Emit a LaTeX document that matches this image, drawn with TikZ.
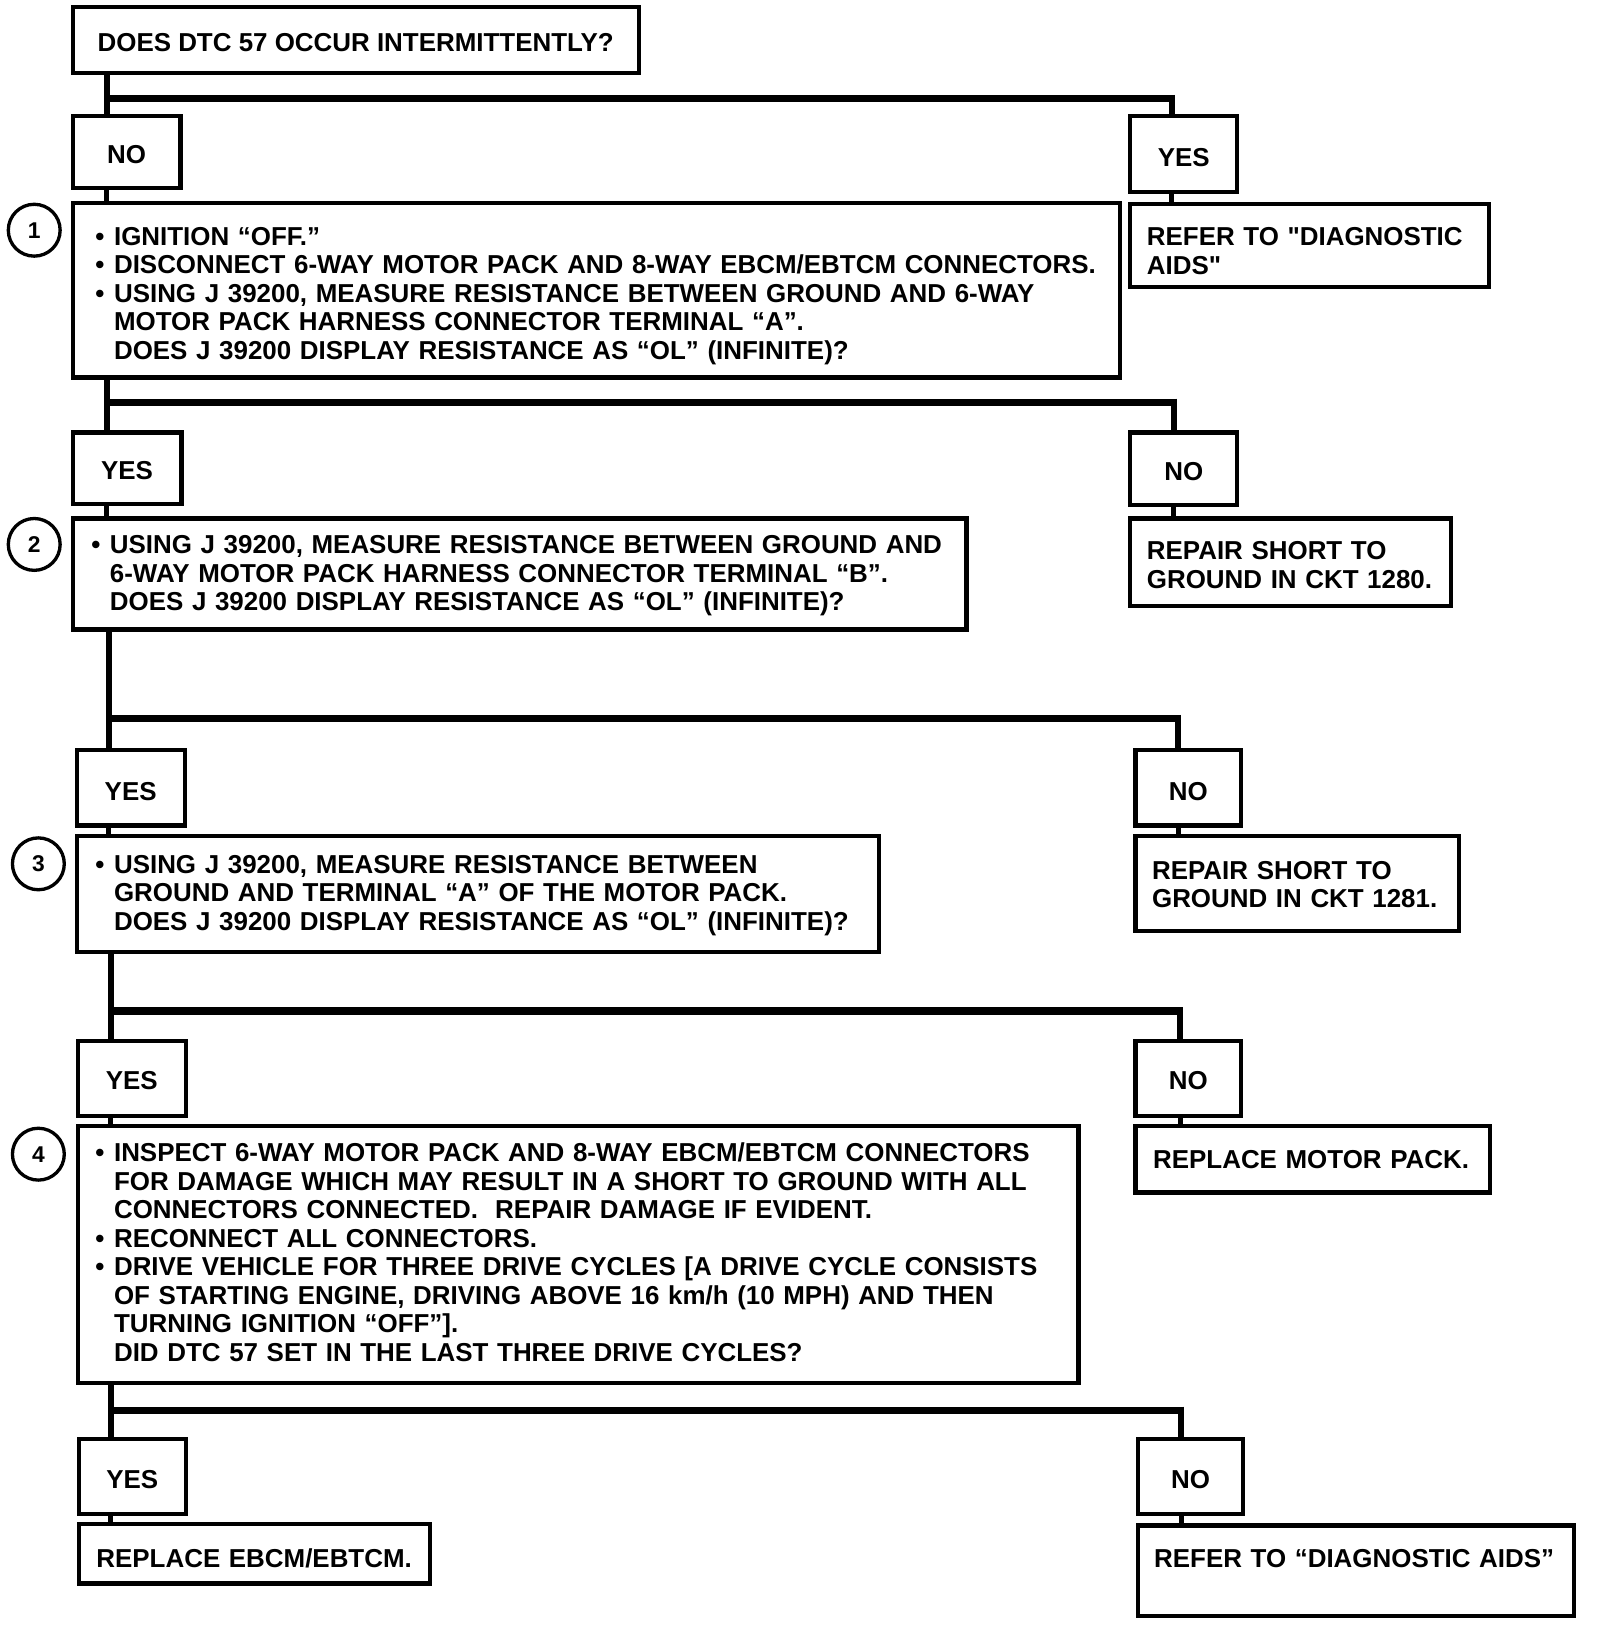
\documentclass[tikz,border=0pt]{standalone}
\usepackage{fontspec}
\setmainfont{Liberation Sans}
\newcommand\bl{\makebox[9pt][l]{•}}
\newcommand\ind{\hspace*{9pt}}
\newcommand\tb[2][0pt]{\raisebox{-#1}[\height][\depth]{\begin{tabular}{@{}l@{}}#2\end{tabular}}}
\begin{document}
\begin{tikzpicture}[x=0.5pt,y=-0.5pt,
  every node/.style={font=\fontsize{12.5}{13.75}\selectfont\bfseries},
  tbox/.style={draw, line width=2pt, rectangle, inner sep=0pt, anchor=center},
  ans/.style={tbox, align=center, text height=11pt, text depth=0pt},
  numc/.style={draw, circle, line width=1.6pt, minimum size=25pt, inner sep=0pt, font=\fontsize{11}{12}\selectfont\bfseries},
  trunk/.style={line width=2.8pt},
  bar/.style={line width=3.6pt},
  short/.style={line width=2.4pt}]
\useasboundingbox (0,0) rectangle (1543,1568);

% question / step boxes
\node[ans, minimum width=273pt, minimum height=31.5pt] (q0) at (343,38.5) {DOES DTC 57 OCCUR INTERMITTENTLY?};
\node[ans, minimum width=52pt, minimum height=34.5pt] (no1) at (122,146.5) {NO};
\node[ans, minimum width=51.5pt, minimum height=36.5pt, text height=12pt] (yes1) at (1141.5,148.5) {YES};
\node[tbox, minimum width=505pt, minimum height=84pt, inner xsep=11pt, text width=483pt] (s1) at (575,280) {\tb[3pt]{%
\bl IGNITION ``OFF.''\\
\bl DISCONNECT 6-WAY MOTOR PACK AND 8-WAY EBCM/EBTCM CONNECTORS.\\
\bl USING J 39200, MEASURE RESISTANCE BETWEEN GROUND AND 6-WAY\\
\ind MOTOR PACK HARNESS CONNECTOR TERMINAL ``A''.\\
\ind DOES J 39200 DISPLAY RESISTANCE AS ``OL'' (INFINITE)?}};
\node[tbox, minimum width=173pt, minimum height=40pt, inner xsep=8pt, text width=157pt] (r1) at (1263,237) {\tb[4pt]{REFER TO \textquotedbl DIAGNOSTIC\\AIDS\textquotedbl}};

\node[ans, minimum width=52.5pt, minimum height=34.5pt] (yes2) at (122.5,451.5) {YES};
\node[ans, minimum width=51.5pt, minimum height=35pt] (no2) at (1141.5,452) {NO};
\node[tbox, minimum width=431pt, minimum height=53.5pt, inner xsep=9pt, text width=413pt] (s2) at (501,553.5) {\tb[1.25pt]{%
\bl USING J 39200, MEASURE RESISTANCE BETWEEN GROUND AND\\
\ind 6-WAY MOTOR PACK HARNESS CONNECTOR TERMINAL ``B''.\\
\ind DOES J 39200 DISPLAY RESISTANCE AS ``OL'' (INFINITE)?}};
\node[tbox, minimum width=154.5pt, minimum height=42pt, inner xsep=8pt, text width=138.5pt] (r2) at (1244.5,542) {\tb[3pt]{REPAIR SHORT TO\\GROUND IN CKT 1280.}};

\node[ans, minimum width=52pt, minimum height=36.5pt, text height=12pt] (yes3) at (126,759.5) {YES};
\node[ans, minimum width=51pt, minimum height=36.5pt, text height=12pt] (no3) at (1146,759.5) {NO};
\node[tbox, minimum width=387pt, minimum height=56pt, inner xsep=9pt, text width=369pt] (s3) at (461,862) {\tb[1pt]{%
\bl USING J 39200, MEASURE RESISTANCE BETWEEN\\
\ind GROUND AND TERMINAL ``A'' OF THE MOTOR PACK.\\
\ind DOES J 39200 DISPLAY RESISTANCE AS ``OL'' (INFINITE)?}};
\node[tbox, minimum width=156pt, minimum height=46pt, inner xsep=8pt, text width=140pt] (r3) at (1251,852) {\tb[2pt]{REPAIR SHORT TO\\GROUND IN CKT 1281.}};

\node[ans, minimum width=52pt, minimum height=36pt] (yes4) at (127,1040) {YES};
\node[ans, minimum width=51pt, minimum height=36pt] (no4) at (1146,1040) {NO};
\node[tbox, minimum width=482.5pt, minimum height=124pt, inner xsep=8.5pt, text width=465.5pt] (s4) at (557.5,1210) {\tb[0.5pt]{%
\bl INSPECT 6-WAY MOTOR PACK AND 8-WAY EBCM/EBTCM CONNECTORS\\
\ind FOR DAMAGE WHICH MAY RESULT IN A SHORT TO GROUND WITH ALL\\
\ind CONNECTORS CONNECTED.\ \ REPAIR DAMAGE IF EVIDENT.\\
\bl RECONNECT ALL CONNECTORS.\\
\bl DRIVE VEHICLE FOR THREE DRIVE CYCLES [A DRIVE CYCLE CONSISTS\\
\ind OF STARTING ENGINE, DRIVING ABOVE 16 km/h (10 MPH) AND THEN\\
\ind TURNING IGNITION ``OFF''].\\
\ind DID DTC 57 SET IN THE LAST THREE DRIVE CYCLES?}};
\node[tbox, minimum width=171pt, minimum height=32pt, inner xsep=8.5pt, text width=154pt] (r4) at (1266,1118) {REPLACE MOTOR PACK.};

\node[ans, minimum width=51.5pt, minimum height=36pt] (yes5) at (127.5,1424) {YES};
\node[ans, minimum width=51pt, minimum height=36pt] (no5) at (1148,1424) {NO};
\node[tbox, minimum width=169.5pt, minimum height=28.5pt, inner xsep=8.5pt, text width=152.5pt, text height=13pt, text depth=0pt] (r5) at (245.5,1498.5) {REPLACE EBCM/EBTCM.};
\node[tbox, minimum width=210.5pt, minimum height=43.5pt, inner xsep=8pt, text width=194.5pt, text height=9pt, text depth=11.5pt] (r6) at (1307.5,1514.5) {REFER TO ``DIAGNOSTIC AIDS''};

% step numbers
\node[numc] (c1) at (33,222) {1};
\node[numc] (c2) at (33,525) {2};
\node[numc] (c3) at (37,833) {3};
\node[numc] (c4) at (37,1113) {4};

% connectors
\coordinate (t0) at (103,0);
\coordinate (b0) at (1130,95);
\draw[trunk] (q0.south -| t0) -- (no1.north -| t0);
\draw[short] (no1.south -| t0) -- (s1.north -| t0);
\draw[bar] (t0 |- b0) -- (b0);
\draw[trunk] ([yshift=1.8pt]b0) -- (yes1.north -| b0);
\draw[short] (yes1.south -| b0) -- (r1.north -| b0);

\coordinate (t1) at (103,0);
\coordinate (b1) at (1132,388);
\draw[trunk] (s1.south -| t1) -- (yes2.north -| t1);
\draw[short] (yes2.south -| t1) -- (s2.north -| t1);
\draw[bar] (t1 |- b1) -- (b1);
\draw[trunk] ([yshift=1.8pt]b1) -- (no2.north -| b1);
\draw[short] (no2.south -| b1) -- (r2.north -| b1);

\coordinate (t2) at (105,0);
\coordinate (b2) at (1136,693);
\draw[trunk] (s2.south -| t2) -- (yes3.north -| t2);
\draw[short] (yes3.south -| t2) -- (s3.north -| t2);
\draw[bar] (t2 |- b2) -- (b2);
\draw[trunk] ([yshift=1.8pt]b2) -- (no3.north -| b2);
\draw[short] (no3.south -| b2) -- (r3.north -| b2);

\coordinate (t3) at (107,0);
\coordinate (b3) at (1138,975);
\draw[trunk] (s3.south -| t3) -- (yes4.north -| t3);
\draw[short] (yes4.south -| t3) -- (s4.north -| t3);
\draw[bar] (t3 |- b3) -- (b3);
\draw[trunk] ([yshift=1.8pt]b3) -- (no4.north -| b3);
\draw[short] (no4.south -| b3) -- (r4.north -| b3);

\coordinate (t4) at (107,0);
\coordinate (b4) at (1139,1360);
\draw[trunk] (s4.south -| t4) -- (yes5.north -| t4);
\draw[short] (yes5.south -| t4) -- (r5.north -| t4);
\draw[bar] (t4 |- b4) -- (b4);
\draw[trunk] ([yshift=1.8pt]b4) -- (no5.north -| b4);
\draw[short] (no5.south -| b4) -- (r6.north -| b4);
\end{tikzpicture}
\end{document}
